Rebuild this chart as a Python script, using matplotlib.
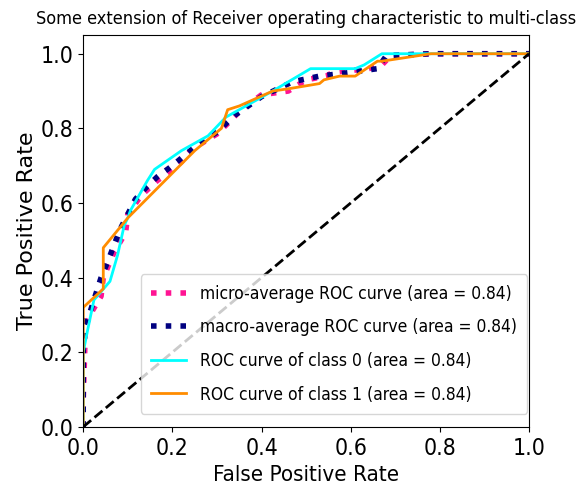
import numpy as np
import matplotlib
matplotlib.use("Agg")
import matplotlib.pyplot as plt

# ROC points
micro_fpr = [0.0, 0.0, 0.005, 0.02, 0.04, 0.045, 0.07, 0.095, 0.10, 0.13, 0.166, 0.19, 0.22,
             0.245, 0.30, 0.33, 0.35, 0.40, 0.46, 0.50, 0.545, 0.56, 0.64, 0.67, 0.69, 0.78, 1.0]
micro_tpr = [0.0, 0.07, 0.27, 0.31, 0.35, 0.40, 0.47, 0.52, 0.57, 0.62, 0.66, 0.68, 0.71,
             0.745, 0.785, 0.82, 0.845, 0.89, 0.90, 0.93, 0.94, 0.95, 0.96, 0.97, 0.995, 1.0, 1.0]

macro_fpr = [0.0, 0.0, 0.016, 0.04, 0.054, 0.07, 0.083, 0.10, 0.117, 0.14, 0.166, 0.20, 0.25,
             0.30, 0.34, 0.40, 0.47, 0.53, 0.60, 0.66, 0.68, 0.78, 1.0]
macro_tpr = [0.0, 0.27, 0.31, 0.40, 0.44, 0.49, 0.53, 0.57, 0.61, 0.64, 0.67, 0.70, 0.75,
             0.79, 0.835, 0.885, 0.925, 0.94, 0.95, 0.96, 0.995, 1.0, 1.0]

class0_fpr = [0.0, 0.0, 0.0, 0.01, 0.024, 0.06, 0.077, 0.092, 0.10, 0.106, 0.144, 0.16, 0.22,
              0.28, 0.32, 0.35, 0.425, 0.51, 0.575, 0.61, 0.63, 0.67, 1.0]
class0_tpr = [0.0, 0.08, 0.20, 0.26, 0.34, 0.39, 0.46, 0.54, 0.56, 0.58, 0.66, 0.69, 0.74,
              0.78, 0.83, 0.85, 0.90, 0.96, 0.96, 0.96, 0.97, 1.0, 1.0]

class1_fpr = [0.0, 0.0, 0.045, 0.045, 0.10, 0.15, 0.20, 0.25, 0.31, 0.324, 0.35, 0.425, 0.46,
              0.53, 0.54, 0.575, 0.61, 0.66, 0.67, 0.78, 1.0]
class1_tpr = [0.0, 0.32, 0.37, 0.48, 0.56, 0.62, 0.68, 0.74, 0.80, 0.85, 0.86, 0.90, 0.906,
              0.92, 0.93, 0.94, 0.94, 0.98, 0.98, 1.0, 1.0]

roc_auc = {"micro": 0.84, "macro": 0.84, 0: 0.84, 1: 0.84}

COND = dict(family="DejaVu Sans", stretch="condensed")

fig = plt.figure(figsize=(5.82, 5.01), dpi=100)
ax = fig.add_axes([0.143, 0.148, 0.766, 0.782])

ax.plot(micro_fpr, micro_tpr, color="deeppink", linestyle=":", linewidth=4,
        label="micro-average ROC curve (area = {0:0.2f})".format(roc_auc["micro"]))
ax.plot(macro_fpr, macro_tpr, color="navy", linestyle=":", linewidth=4,
        label="macro-average ROC curve (area = {0:0.2f})".format(roc_auc["macro"]))
ax.plot(class0_fpr, class0_tpr, color="aqua", lw=2,
        label="ROC curve of class 0 (area = {0:0.2f})".format(roc_auc[0]))
ax.plot(class1_fpr, class1_tpr, color="darkorange", lw=2,
        label="ROC curve of class 1 (area = {0:0.2f})".format(roc_auc[1]))
ax.plot([0, 1], [0, 1], "k--", lw=2)

ax.set_xlim([0.0, 1.0])
ax.set_ylim([0.0, 1.05])
ax.set_xlabel("False Positive Rate", fontsize=16, **COND)
ax.set_ylabel("True Positive Rate", fontsize=16)
ax.yaxis.set_label_coords(-0.104, 0.5)
ax.set_title("Some extension of Receiver operating characteristic to multi-class",
             fontsize=13, pad=8, **COND)
for lab in ax.get_xticklabels() + ax.get_yticklabels():
    lab.set_family("DejaVu Sans")
    lab.set_stretch("condensed")
    lab.set_fontsize(16.5)
ax.legend(loc="lower right", bbox_to_anchor=(0.996, 0.033), borderaxespad=0,
          prop=dict(size=12.5, **COND), labelspacing=0.9, borderpad=0.6,
          handlelength=2.0)

fig.savefig("out.png", dpi=100)
